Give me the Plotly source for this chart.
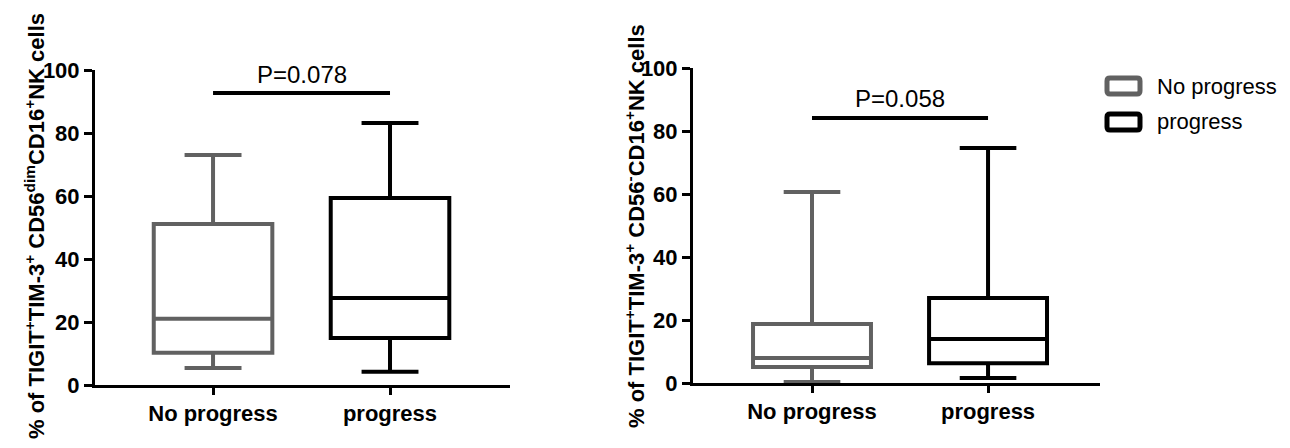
import plotly.graph_objects as go

# ---------------- data ----------------
categories = ["No progress", "progress"]
group_colors = ["#616161", "#000000"]

# left panel: TIGIT+TIM-3+ CD56dim CD16+ NK cells
left_lower = [5.4, 4.2]
left_q1 = [10.2, 14.9]
left_median = [21.0, 27.6]
left_q3 = [51.1, 59.4]
left_upper = [73.0, 83.2]

# right panel: TIGIT+TIM-3+ CD56- CD16+ NK cells
right_lower = [0.3, 1.6]
right_q1 = [5.1, 6.3]
right_median = [7.9, 14.0]
right_q3 = [18.7, 27.0]
right_upper = [60.6, 74.6]

p_texts = ["P=0.078", "P=0.058"]
sig_bar_y = [92.7, 84.1]
p_text_y = [98.6, 90.3]

y_titles = [
    "% of TIGIT<sup>+</sup>TIM-3<sup>+</sup> CD56<sup>dim</sup>CD16<sup>+</sup>NK cells",
    "% of TIGIT<sup>+</sup>TIM-3<sup>+</sup> CD56<sup>-</sup>CD16<sup>+</sup>NK cells",
]
y_ticks = [0, 20, 40, 60, 80, 100]

FONT = "Liberation Sans, Arial, sans-serif"
# page body has an 8px default margin; size the figure so it fits the window
OFF = 8
W, H = 1290 - 2 * OFF, 448 - 2 * OFF


def fx(px):
    return (px - OFF) / W


def fy(py):
    return 1 - (py - OFF) / H


def rounded_rect_path(x0, y0, x1, y1, r):
    # pixel coords (reference frame) -> paper-coordinate SVG path
    pts = [
        ("M", x0 + r, y0), ("L", x1 - r, y0), ("Q", x1, y0, x1, y0 + r),
        ("L", x1, y1 - r), ("Q", x1, y1, x1 - r, y1), ("L", x0 + r, y1),
        ("Q", x0, y1, x0, y1 - r), ("L", x0, y0 + r), ("Q", x0, y0, x0 + r, y0),
    ]
    out = []
    for p in pts:
        cmd = p[0]
        coords = p[1:]
        s = cmd
        for i in range(0, len(coords), 2):
            s += f" {fx(coords[i]):.5f},{fy(coords[i + 1]):.5f}"
        out.append(s)
    return " ".join(out) + " Z"


fig = go.Figure()

panels = [
    ("x", "y", left_lower, left_q1, left_median, left_q3, left_upper),
    ("x2", "y2", right_lower, right_q1, right_median, right_q3, right_upper),
]

for pi, (xa, ya, lo, q1, med, q3, up) in enumerate(panels):
    for gi, cat in enumerate(categories):
        fig.add_trace(go.Box(
            x=[gi], q1=[q1[gi]], median=[med[gi]], q3=[q3[gi]],
            lowerfence=[lo[gi]], upperfence=[up[gi]],
            name=cat, width=0.67, whiskerwidth=0.48,
            line=dict(color=group_colors[gi], width=4),
            fillcolor="white", boxpoints=False, showlegend=False,
            hoverinfo="skip", xaxis=xa, yaxis=ya,
        ))
    # significance bar
    fig.add_trace(go.Scatter(
        x=[0, 1], y=[sig_bar_y[pi], sig_bar_y[pi]], mode="lines",
        line=dict(color="black", width=4), showlegend=False,
        hoverinfo="skip", xaxis=xa, yaxis=ya,
    ))
    fig.add_annotation(
        x=0.5, y=p_text_y[pi], xref=xa, yref=ya, text=p_texts[pi],
        showarrow=False, font=dict(family=FONT, size=24, color="black"),
        xanchor="center", yanchor="middle",
    )

axis_common_y = dict(
    range=[0, 100], tickvals=y_ticks, showline=True, linewidth=3, linecolor="black",
    ticks="outside", ticklen=8, tickwidth=3, tickcolor="black", showgrid=False,
    zeroline=False, automargin=False,
    tickfont=dict(family=FONT, size=22, color="black", weight="bold"),
)
axis_common_x = dict(
    tickvals=[0, 1], ticktext=categories, showline=True, linewidth=3, linecolor="black",
    ticks="outside", ticklen=7, tickwidth=3, tickcolor="black", showgrid=False,
    zeroline=False, automargin=False,
    tickfont=dict(family=FONT, size=22, color="black", weight="bold"),
)

fig.update_layout(
    width=W, height=H, margin=dict(l=0, r=0, t=0, b=0, autoexpand=False),
    paper_bgcolor="white", plot_bgcolor="white", boxmode="overlay",
    xaxis=dict(domain=[fx(95), fx(510)], range=[-0.667, 1.678], anchor="y", **axis_common_x),
    yaxis=dict(domain=[fy(385), fy(70)], anchor="x", **axis_common_y),
    xaxis2=dict(domain=[fx(693), fx(1100)], range=[-0.676, 1.636], anchor="y2", **axis_common_x),
    yaxis2=dict(domain=[fy(383), fy(68)], anchor="x2", **axis_common_y),
)

# y-axis titles
for xc, t in zip([fx(35), fx(635)], y_titles):
    fig.add_annotation(
        x=xc, y=fy(226), xref="paper", yref="paper", text=t, textangle=-90,
        showarrow=False, xanchor="center", yanchor="middle",
        font=dict(family=FONT, size=22, color="black", weight="bold"),
    )

# manual legend
legend_y = [86, 122]
for gi, cat in enumerate(categories):
    yc = legend_y[gi]
    fig.add_shape(
        type="path", xref="paper", yref="paper",
        path=rounded_rect_path(1107, yc - 8, 1140, yc + 8, 3),
        line=dict(color=group_colors[gi], width=5), fillcolor="white",
    )
    fig.add_annotation(
        x=fx(1155), y=fy(yc), xref="paper", yref="paper", text=cat,
        showarrow=False, xanchor="left", yanchor="middle",
        font=dict(family=FONT, size=22, color="black"),
    )

fig.write_html("out.html")
